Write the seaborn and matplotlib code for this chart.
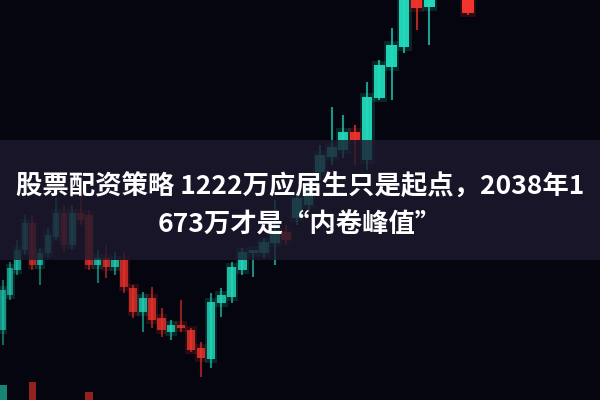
import numpy as np
import matplotlib
matplotlib.use("Agg")
import matplotlib.pyplot as plt
import seaborn as sns
from matplotlib.patches import Rectangle

# daily candles (price units)
opens = [17.0, 20.5, 23.0, 25.0, 27.7, 23.5, 24.7, 26.3, 28.7, 25.5,
         28.7, 28.5, 23.5, 24.2, 23.3, 24.0, 21.2, 18.8, 20.2, 18.2,
         16.8, 17.5, 17.0, 15.2, 14.1, 19.7, 20.3, 23.0, 24.7, 24.7,
         25.7, 26.8, 28.2, 29.5, 32.8, 34.3, 35.0, 36.8, 34.0, 40.2,
         43.3, 45.3, 52.5, 49.3, 53.0, 55.0, 54.0]
closes = [21.0, 23.2, 25.0, 27.7, 23.5, 24.7, 26.5, 28.7, 25.5, 28.7,
          28.0, 23.5, 24.2, 23.3, 24.0, 21.3, 18.8, 20.2, 18.0, 17.0,
          17.5, 17.2, 15.0, 14.2, 19.8, 20.5, 23.3, 24.8, 25.0, 25.8,
          27.0, 26.0, 30.2, 31.3, 34.5, 35.3, 36.8, 36.0, 40.3, 43.5,
          45.5, 51.0, 49.2, 51.5, 55.0, 56.5, 48.7]
highs = [22.0, 23.8, 26.0, 28.5, 28.5, 25.2, 27.2, 30.2, 29.5, 29.5,
         30.8, 29.0, 25.0, 25.5, 24.8, 24.8, 21.5, 20.8, 21.3, 19.2,
         18.0, 20.0, 17.2, 15.8, 20.7, 21.2, 23.8, 25.2, 25.0, 26.2,
         30.0, 27.5, 31.0, 32.2, 35.5, 39.3, 38.5, 37.5, 41.8, 44.0,
         47.2, 52.0, 53.5, 52.5, 56.0, 57.5, 55.0]
lows = [15.5, 20.0, 22.5, 24.5, 23.0, 21.5, 24.2, 26.0, 24.8, 25.0,
        27.5, 23.0, 21.7, 22.2, 22.5, 20.7, 18.2, 16.8, 17.2, 16.3,
        16.0, 16.8, 14.8, 12.3, 13.2, 18.3, 19.7, 22.5, 22.3, 24.2,
        23.5, 25.5, 27.5, 28.8, 32.0, 33.5, 34.2, 33.5, 33.0, 40.0,
        40.0, 44.7, 47.0, 45.5, 51.0, 52.0, 48.5]
volume = [75, 48, 52, 55, 78, 40, 45, 50, 57, 44,
          38, 68, 35, 36, 30, 42, 46, 40, 44, 38,
          30, 32, 41, 47, 58, 36, 45, 40, 28, 33,
          46, 31, 50, 48, 52, 45, 44, 39, 57, 53,
          49, 55, 47, 42, 40, 44, 51]
title_lines = ["股票配资策略 1222万应届生只是起点，2038年1",
               "673万才是“内卷峰值”"]

sns.set_theme(style="dark", rc={"axes.facecolor": "#05050f",
                                "figure.facecolor": "#05050f"})
plt.rcParams['font.family'] = ['Noto Sans CJK SC', 'DejaVu Sans']

# candles get wider to the right, like the photo's perspective
k = 0.0092
def fwd(t):
    t = np.asarray(t, dtype=float)
    return t + k * t ** 2
def inv(x):
    x = np.asarray(x, dtype=float)
    return (-1 + np.sqrt(np.clip(1 + 4 * k * x, 0, None))) / (2 * k)

fig = plt.figure(figsize=(6, 4), dpi=100)
ax = fig.add_axes([0, 0, 1, 1])
ax.set_xscale('function', functions=(fwd, inv))

idx = np.arange(len(opens))
o = np.array(opens); c = np.array(closes)
up = c >= o
cols = np.where(up, "#22dcbd", "#f2342c")
alphas = 0.6 + 0.4 * idx / idx.max()

bottom = np.minimum(o, c)
height = np.maximum(np.abs(c - o), 0.3)

for i in idx:
    ax.vlines(i, lows[i], highs[i], color=cols[i], lw=1.5, alpha=alphas[i] * 0.75, zorder=2)
    ax.bar(i, height[i] + 0.8, bottom=bottom[i] - 0.4, width=1.2,
           color=cols[i], alpha=0.15, linewidth=0, zorder=2)
    ax.bar(i, height[i], bottom=bottom[i], width=0.85,
           color=cols[i], alpha=alphas[i], linewidth=0, zorder=3)

ax.set_xlim(-0.42, 55.6)
ax.set_ylim(10, 50)
ax.set_axis_off()

# volume strip, mostly below the frame
ax2 = ax.twinx()
ax2.bar(idx, volume, width=1.0, color=cols, alpha=0.6, linewidth=0)
ax2.set_ylim(60, 460)
ax2.set_xlim(-0.42, 55.6)
ax2.set_axis_off()

fig.add_artist(Rectangle((0, 0.35), 1, 0.30, transform=fig.transFigure,
                         facecolor="#1c1a2e", alpha=0.8, linewidth=0, zorder=5))
fig.text(0.5, 0.532, title_lines[0], ha="center", va="center", color="white",
         fontsize=19, fontweight="bold", zorder=6)
fig.text(0.5, 0.437, title_lines[1], ha="center", va="center", color="white",
         fontsize=19, fontweight="bold", zorder=6)

fig.savefig("out.png", dpi=100)
